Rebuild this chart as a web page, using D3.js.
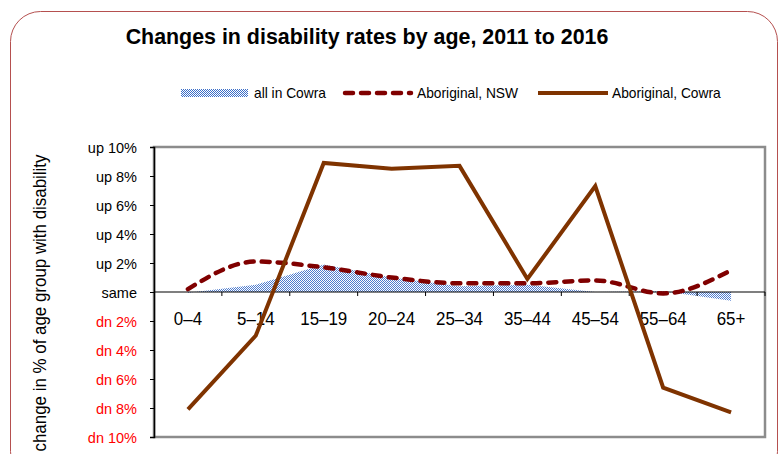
<!DOCTYPE html>
<html><head><meta charset="utf-8">
<script src="https://cdn.jsdelivr.net/npm/d3@7"></script>
<style>
html,body{margin:0;padding:0;background:#fff;}
text{font-family:"Liberation Sans",Arial,sans-serif;}
</style></head>
<body>
<svg id="c" width="780" height="454"></svg>
<script>
const categories = ["0–4","5–14","15–19","20–24","25–34","35–44","45–54","55–64","65+"];
const allCowra   = [-0.05, 0.5, 1.9, 1.0, 0.4, 0.5, 0.0, 0.05, -0.6];
const aboriginalNSW   = [0.2, 2.1, 1.7, 1.0, 0.6, 0.6, 0.8, -0.1, 1.5];
const aboriginalCowra = [-8.1, -3.0, 8.9, 8.5, 8.7, 0.9, 7.3, -6.6, -8.3];
const yTickValues = [-10,-8,-6,-4,-2,0,2,4,6,8,10];
const yTickLabels = ["dn 10%","dn 8%","dn 6%","dn 4%","dn 2%","same","up 2%","up 4%","up 6%","up 8%","up 10%"];
const seriesNames = ["all in Cowra","Aboriginal, NSW","Aboriginal, Cowra"];
const titleText = "Changes in disability rates by age, 2011 to 2016";
const yTitle = "change in % of age group with disability";

const svg = d3.select("#c");
const plot = {l:154, r:765, t:147, b:437};
const cBrown = "#7f3300", cMaroon = "#800000", cBlue = "#3d6fc8";

function condense(sel, f){
  sel.each(function(){
    const len = this.getComputedTextLength();
    d3.select(this).attr("textLength", len*f).attr("lengthAdjust","spacingAndGlyphs");
  });
}

const defs = svg.append("defs");
const pat = defs.append("pattern").attr("id","chk").attr("width",2).attr("height",2)
  .attr("patternUnits","userSpaceOnUse");
pat.append("rect").attr("width",2).attr("height",2).attr("fill","#fff");
pat.append("rect").attr("x",0).attr("y",0).attr("width",1).attr("height",1).attr("fill",cBlue);
pat.append("rect").attr("x",1).attr("y",1).attr("width",1).attr("height",1).attr("fill",cBlue);

// outer frame
svg.append("rect").attr("x",10.5).attr("y",11.5).attr("width",767).attr("height",470)
  .attr("rx",30).attr("fill","#fff").attr("stroke","#b5504f").attr("stroke-width",1);

svg.append("text").attr("x",367).attr("y",44).attr("text-anchor","middle")
  .attr("font-weight","bold").attr("font-size",21.4).attr("fill","#000").text(titleText);

const x = d3.scaleBand().domain(categories).range([plot.l, plot.r]);
const y = d3.scaleLinear().domain([-10,10]).range([plot.b, plot.t]);
const cx = d => x(d) + x.bandwidth()/2;

// plot area
svg.append("rect").attr("x",plot.l).attr("y",plot.t).attr("width",plot.r-plot.l).attr("height",plot.b-plot.t)
  .attr("fill","#fff").attr("stroke","#8c8c8c").attr("stroke-width",2.5);

// area
const area = d3.area().x((d,i)=>cx(categories[i])).y0(y(0)).y1(d=>y(d));
svg.append("path").datum(allCowra).attr("d",area).attr("fill","url(#chk)").attr("opacity",0.9);

// y axis
const yAxis = d3.axisLeft(y).tickValues(yTickValues).tickSize(4).tickPadding(13)
  .tickFormat((d,i)=>yTickLabels[i]);
const gy = svg.append("g").attr("transform",`translate(${plot.l},0)`).call(yAxis);
gy.select(".domain").attr("stroke","#000").attr("stroke-width",1.5);
gy.selectAll(".tick line").attr("stroke","#000");
gy.selectAll(".tick text").attr("font-size",14.5).style("font-family","'Liberation Sans',Arial,sans-serif")
  .attr("fill",d=>d<0?"#ff0000":"#000").attr("dy","0.36em");

// x axis at zero
const xAxis = d3.axisBottom(x).tickSize(0).tickPadding(0);
const gx = svg.append("g").attr("transform",`translate(0,${y(0)})`).call(xAxis);
gx.select(".domain").remove();
gx.selectAll(".tick text").attr("font-size",19).attr("fill","#000").attr("dy",0).attr("y",33)
  .style("font-family","'Liberation Sans',Arial,sans-serif");
condense(gx.selectAll(".tick text"), 0.89);
svg.append("line").attr("x1",plot.l).attr("x2",plot.r).attr("y1",y(0)).attr("y2",y(0))
  .attr("stroke","#000").attr("stroke-width",1.2);
const bounds = categories.map(c=>x(c)).slice(1).concat([plot.r]);
svg.selectAll(".xt").data(bounds).join("line").attr("class","xt")
  .attr("x1",d=>d).attr("x2",d=>d).attr("y1",y(0)).attr("y2",y(0)+4).attr("stroke","#000");

// NSW dashed smoothed
const lineS = d3.line().x((d,i)=>cx(categories[i])).y(d=>y(d)).curve(d3.curveMonotoneX);
svg.append("path").datum(aboriginalNSW).attr("d",lineS).attr("fill","none")
  .attr("stroke",cMaroon).attr("stroke-width",4.5).attr("stroke-dasharray","8 8").attr("stroke-linecap","round");

// Cowra solid
const lineL = d3.line().x((d,i)=>cx(categories[i])).y(d=>y(d));
svg.append("path").datum(aboriginalCowra).attr("d",lineL).attr("fill","none")
  .attr("stroke",cBrown).attr("stroke-width",4).attr("stroke-linejoin","miter");

// y title
const yt = svg.append("text").attr("transform",`translate(46,303) rotate(-90)`).attr("text-anchor","middle")
  .attr("font-size",19).attr("fill","#000").text(yTitle);
condense(yt, 297/yt.node().getComputedTextLength());

// legend
const lg = svg.append("g").attr("font-size",14.5);
const ly = 93;
lg.append("rect").attr("x",181).attr("y",ly-4).attr("width",67).attr("height",8).attr("fill","url(#chk)");
lg.append("text").attr("x",254).attr("y",ly).attr("dy","0.35em").text(seriesNames[0]);
lg.append("line").attr("x1",345).attr("x2",411).attr("y1",ly).attr("y2",ly)
  .attr("stroke",cMaroon).attr("stroke-width",4.5).attr("stroke-dasharray","8 8").attr("stroke-linecap","round");
lg.append("text").attr("x",417).attr("y",ly).attr("dy","0.35em").text(seriesNames[1]);
lg.append("line").attr("x1",538).attr("x2",608).attr("y1",ly).attr("y2",ly)
  .attr("stroke",cBrown).attr("stroke-width",4);
lg.append("text").attr("x",612).attr("y",ly).attr("dy","0.35em").text(seriesNames[2]);
condense(lg.selectAll("text"), 0.95);
</script>
</body></html>
